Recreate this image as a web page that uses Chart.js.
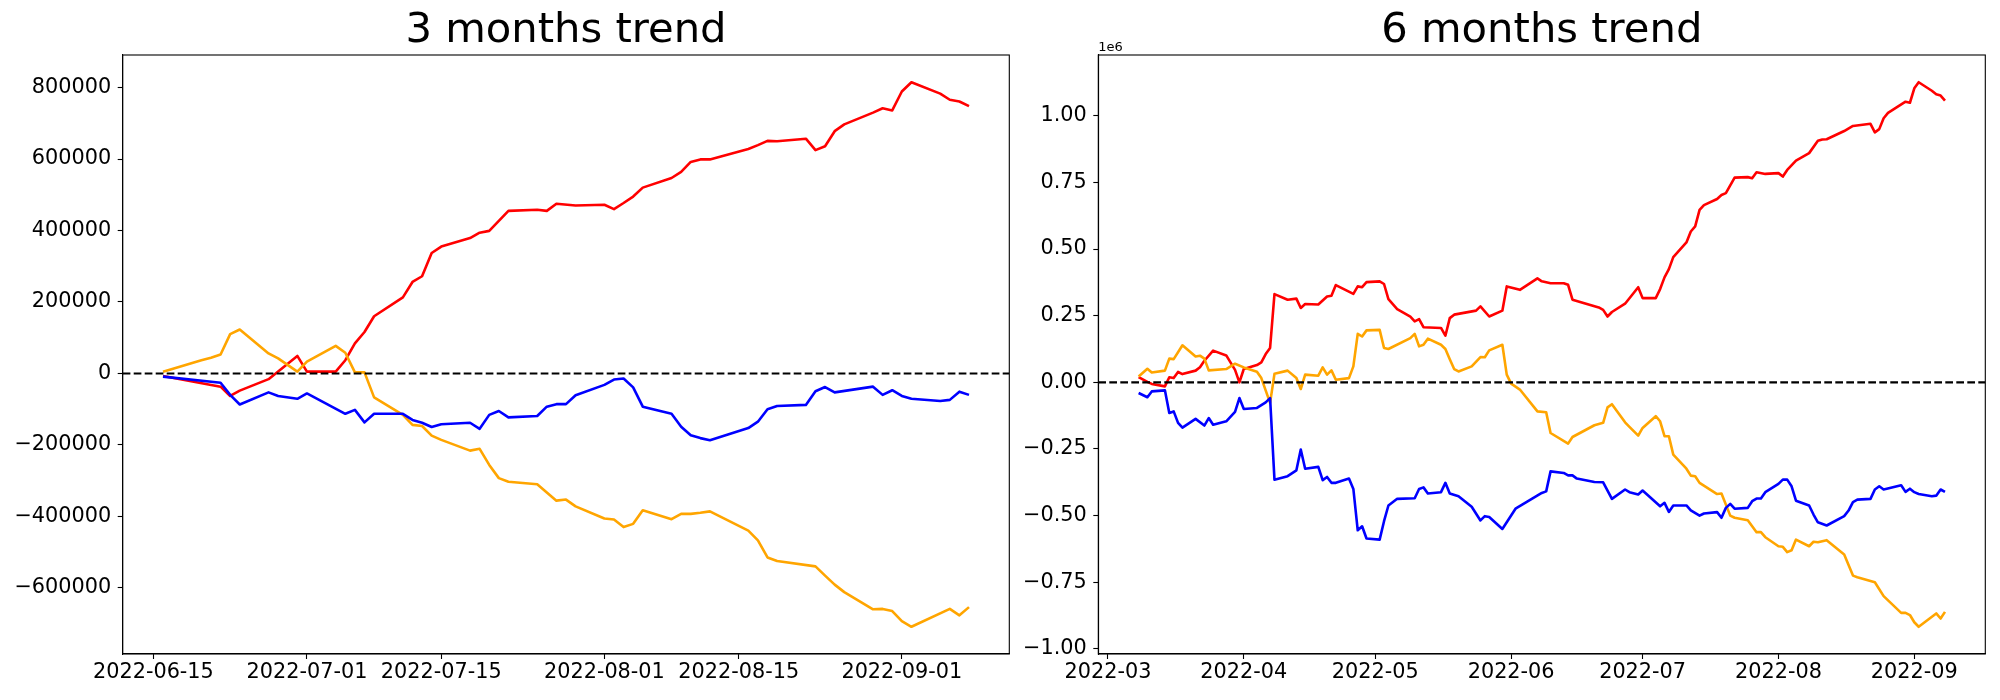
<!DOCTYPE html>
<html>
<head>
<meta charset="utf-8">
<script src="https://cdn.jsdelivr.net/npm/chart.js@4.4.0/dist/chart.umd.min.js"></script>
<style>
  html, body { margin: 0; padding: 0; background: #fff; }
  body { width: 2000px; height: 700px; position: relative; overflow: hidden; }
  .panel { position: absolute; top: 0; height: 700px; }
  #leftPanel { left: 0; width: 1015px; }
  #rightPanel { left: 1015px; width: 985px; }
</style>
</head>
<body>
<div class="panel" id="leftPanel"><canvas id="chart3m" width="1015" height="700"></canvas></div>
<div class="panel" id="rightPanel"><canvas id="chart6m" width="985" height="700"></canvas></div>
<script>
// ---- 3 months trend ----
const red3Dates = ["2022-06-16", "2022-06-22", "2022-06-23", "2022-06-24", "2022-06-27", "2022-06-30",
  "2022-07-01", "2022-07-04", "2022-07-05", "2022-07-06", "2022-07-07", "2022-07-08",
  "2022-07-11", "2022-07-12", "2022-07-13", "2022-07-14", "2022-07-15",
  "2022-07-18", "2022-07-19", "2022-07-20", "2022-07-22",
  "2022-07-25", "2022-07-26", "2022-07-27", "2022-07-29",
  "2022-08-01", "2022-08-02", "2022-08-03", "2022-08-04", "2022-08-05",
  "2022-08-08", "2022-08-09", "2022-08-10", "2022-08-11", "2022-08-12",
  "2022-08-16", "2022-08-17", "2022-08-18", "2022-08-19",
  "2022-08-22", "2022-08-23", "2022-08-24", "2022-08-25", "2022-08-26",
  "2022-08-29", "2022-08-30", "2022-08-31", "2022-09-01", "2022-09-02",
  "2022-09-05", "2022-09-06", "2022-09-07", "2022-09-08"];
const red3Values = [-7000, -37000, -63000, -48000, -16000, 49000,
  5000, 5000, 37000, 84000, 116000, 160000,
  213000, 256000, 272000, 337000, 355000,
  379000, 394000, 399000, 455000,
  458000, 455000, 475000, 470000,
  472000, 460000, 477000, 495000, 520000,
  547000, 564000, 592000, 599000, 599000,
  628000, 639000, 651000, 650000,
  657000, 625000, 636000, 678000, 697000,
  730000, 742000, 736000, 789000, 815000,
  783000, 766000, 761000, 748000];

const orange3Dates = ["2022-06-16", "2022-06-20", "2022-06-21", "2022-06-22", "2022-06-23", "2022-06-24",
  "2022-06-27", "2022-06-28", "2022-06-30", "2022-07-01",
  "2022-07-04", "2022-07-05", "2022-07-06", "2022-07-07", "2022-07-08",
  "2022-07-11", "2022-07-12", "2022-07-13", "2022-07-14", "2022-07-15",
  "2022-07-18", "2022-07-19", "2022-07-20", "2022-07-21", "2022-07-22",
  "2022-07-25", "2022-07-26", "2022-07-27", "2022-07-28", "2022-07-29",
  "2022-08-01", "2022-08-02", "2022-08-03", "2022-08-04", "2022-08-05",
  "2022-08-08", "2022-08-09", "2022-08-10", "2022-08-11", "2022-08-12",
  "2022-08-16", "2022-08-17", "2022-08-18", "2022-08-19",
  "2022-08-23", "2022-08-24", "2022-08-25", "2022-08-26",
  "2022-08-29", "2022-08-30", "2022-08-31", "2022-09-01", "2022-09-02",
  "2022-09-06", "2022-09-07", "2022-09-08"];
const orange3Values = [5000, 37000, 44000, 53000, 110000, 123000,
  56000, 42000, 5000, 33000,
  77000, 58000, 3000, 3000, -67000,
  -116000, -144000, -147000, -174000, -186000,
  -216000, -211000, -256000, -293000, -303000,
  -310000, -333000, -356000, -353000, -372000,
  -406000, -409000, -430000, -421000, -383000,
  -408000, -393000, -393000, -390000, -386000,
  -440000, -467000, -515000, -525000,
  -540000, -566000, -591000, -612000,
  -660000, -659000, -665000, -693000, -709000,
  -659000, -677000, -654000];

const blue3Dates = ["2022-06-16", "2022-06-22", "2022-06-23", "2022-06-24", "2022-06-27", "2022-06-28", "2022-06-30",
  "2022-07-01", "2022-07-05", "2022-07-06", "2022-07-07", "2022-07-08",
  "2022-07-11", "2022-07-12", "2022-07-13", "2022-07-14", "2022-07-15",
  "2022-07-18", "2022-07-19", "2022-07-20", "2022-07-21", "2022-07-22",
  "2022-07-25", "2022-07-26", "2022-07-27", "2022-07-28", "2022-07-29",
  "2022-08-01", "2022-08-02", "2022-08-03", "2022-08-04", "2022-08-05",
  "2022-08-08", "2022-08-09", "2022-08-10", "2022-08-11", "2022-08-12",
  "2022-08-16", "2022-08-17", "2022-08-18", "2022-08-19",
  "2022-08-22", "2022-08-23", "2022-08-24", "2022-08-25",
  "2022-08-29", "2022-08-30", "2022-08-31", "2022-09-01", "2022-09-02",
  "2022-09-05", "2022-09-06", "2022-09-07", "2022-09-08"];
const blue3Values = [-9000, -26000, -60000, -87000, -53000, -63000, -71000,
  -56000, -113000, -102000, -137000, -113000,
  -113000, -130000, -138000, -150000, -142000,
  -138000, -155000, -116000, -105000, -123000,
  -119000, -93000, -86000, -86000, -61000,
  -32000, -17000, -14000, -39000, -93000,
  -113000, -149000, -173000, -181000, -187000,
  -153000, -135000, -100000, -91000,
  -88000, -50000, -38000, -53000,
  -37000, -60000, -47000, -63000, -71000,
  -77000, -74000, -51000, -60000];

const xTicks3 = ["2022-06-15", "2022-07-01", "2022-07-15", "2022-08-01", "2022-08-15", "2022-09-01"];
const yTicks3 = [-600000, -400000, -200000, 0, 200000, 400000, 600000, 800000];

// ---- 6 months trend ----
const red6Dates = ["2022-03-08", "2022-03-10", "2022-03-11", "2022-03-14", "2022-03-15", "2022-03-16", "2022-03-17", "2022-03-18",
  "2022-03-21", "2022-03-22", "2022-03-23", "2022-03-25", "2022-03-28", "2022-03-30", "2022-03-31",
  "2022-04-01", "2022-04-04", "2022-04-05", "2022-04-06", "2022-04-07", "2022-04-08", "2022-04-11", "2022-04-13",
  "2022-04-14", "2022-04-15", "2022-04-18", "2022-04-20", "2022-04-21", "2022-04-22", "2022-04-26", "2022-04-27",
  "2022-04-28", "2022-04-29",
  "2022-05-02", "2022-05-03", "2022-05-04", "2022-05-06", "2022-05-09", "2022-05-10", "2022-05-11", "2022-05-12",
  "2022-05-16", "2022-05-17", "2022-05-18", "2022-05-19", "2022-05-24", "2022-05-25", "2022-05-27", "2022-05-30",
  "2022-05-31",
  "2022-06-03", "2022-06-07", "2022-06-08", "2022-06-10", "2022-06-13", "2022-06-14", "2022-06-15", "2022-06-21",
  "2022-06-22", "2022-06-23", "2022-06-24", "2022-06-27", "2022-06-30",
  "2022-07-01", "2022-07-04", "2022-07-05", "2022-07-06", "2022-07-07", "2022-07-08", "2022-07-11", "2022-07-12",
  "2022-07-13", "2022-07-14", "2022-07-15", "2022-07-18", "2022-07-19", "2022-07-20", "2022-07-22", "2022-07-25",
  "2022-07-26", "2022-07-27", "2022-07-29",
  "2022-08-01", "2022-08-02", "2022-08-03", "2022-08-05", "2022-08-08", "2022-08-10", "2022-08-11", "2022-08-12",
  "2022-08-16", "2022-08-18", "2022-08-22", "2022-08-23", "2022-08-24", "2022-08-25", "2022-08-26", "2022-08-30",
  "2022-08-31",
  "2022-09-01", "2022-09-02", "2022-09-05", "2022-09-06", "2022-09-07", "2022-09-08"];
const red6Values = [20000, 2000, -6000, -15000, 19000, 16000, 39000, 31000,
  44000, 57000, 81000, 119000, 101000, 47000, 0,
  50000, 65000, 75000, 106000, 129000, 331000, 310000, 314000,
  279000, 294000, 292000, 322000, 325000, 365000, 332000, 360000,
  357000, 376000,
  379000, 369000, 312000, 275000, 247000, 229000, 237000, 207000,
  204000, 175000, 241000, 254000, 269000, 285000, 247000, 269000,
  360000,
  347000, 390000, 379000, 372000, 372000, 366000, 310000, 281000,
  272000, 247000, 264000, 295000, 357000,
  316000, 316000, 350000, 394000, 425000, 470000, 525000, 566000,
  585000, 647000, 665000, 688000, 703000, 710000, 768000, 770000,
  766000, 788000, 782000,
  785000, 772000, 797000, 832000, 860000, 906000, 911000, 912000,
  943000, 962000, 970000, 938000, 950000, 991000, 1011000, 1053000,
  1049000,
  1103000, 1126000, 1094000, 1081000, 1076000, 1057000];

const orange6Dates = ["2022-03-08", "2022-03-10", "2022-03-11", "2022-03-14", "2022-03-15", "2022-03-16", "2022-03-18",
  "2022-03-21", "2022-03-22", "2022-03-23", "2022-03-24", "2022-03-28", "2022-03-30",
  "2022-04-01", "2022-04-04", "2022-04-05", "2022-04-07", "2022-04-08", "2022-04-11", "2022-04-13", "2022-04-14",
  "2022-04-15", "2022-04-18", "2022-04-19", "2022-04-20", "2022-04-21", "2022-04-22", "2022-04-25", "2022-04-26",
  "2022-04-27", "2022-04-28", "2022-04-29",
  "2022-05-02", "2022-05-03", "2022-05-04", "2022-05-09", "2022-05-10", "2022-05-11", "2022-05-12", "2022-05-13",
  "2022-05-16", "2022-05-17", "2022-05-18", "2022-05-19", "2022-05-20", "2022-05-23", "2022-05-25", "2022-05-26",
  "2022-05-27", "2022-05-30", "2022-05-31",
  "2022-06-01", "2022-06-03", "2022-06-07", "2022-06-09", "2022-06-10", "2022-06-14", "2022-06-15", "2022-06-20",
  "2022-06-22", "2022-06-23", "2022-06-24", "2022-06-27", "2022-06-28", "2022-06-30",
  "2022-07-01", "2022-07-04", "2022-07-05", "2022-07-06", "2022-07-07", "2022-07-08", "2022-07-11", "2022-07-12",
  "2022-07-13", "2022-07-14", "2022-07-18", "2022-07-19", "2022-07-21", "2022-07-22", "2022-07-25", "2022-07-27",
  "2022-07-28", "2022-07-29",
  "2022-08-01", "2022-08-02", "2022-08-03", "2022-08-04", "2022-08-05", "2022-08-08", "2022-08-09", "2022-08-10",
  "2022-08-12", "2022-08-16", "2022-08-18", "2022-08-19", "2022-08-23", "2022-08-25", "2022-08-29", "2022-08-30",
  "2022-08-31",
  "2022-09-01", "2022-09-02", "2022-09-06", "2022-09-07", "2022-09-08"];
const orange6Values = [22000, 51000, 37000, 44000, 89000, 87000, 139000,
  97000, 100000, 89000, 45000, 50000, 70000,
  56000, 40000, 16000, -77000, 32000, 44000, 16000, -25000,
  29000, 25000, 56000, 29000, 45000, 10000, 16000, 60000,
  182000, 172000, 195000,
  197000, 129000, 125000, 166000, 182000, 135000, 141000, 164000,
  141000, 125000, 87000, 50000, 41000, 60000, 95000, 94000,
  120000, 141000, 29000,
  -5000, -27000, -109000, -112000, -190000, -230000, -205000, -161000,
  -152000, -94000, -82000, -150000, -167000, -200000,
  -171000, -127000, -146000, -202000, -202000, -271000, -324000, -350000,
  -352000, -377000, -419000, -417000, -500000, -508000, -517000, -562000,
  -562000, -581000,
  -615000, -617000, -637000, -630000, -590000, -615000, -598000, -600000,
  -592000, -646000, -725000, -731000, -750000, -802000, -865000, -865000,
  -873000,
  -900000, -917000, -867000, -886000, -861000];

const blue6Dates = ["2022-03-08", "2022-03-10", "2022-03-11", "2022-03-14", "2022-03-15", "2022-03-16", "2022-03-17", "2022-03-18",
  "2022-03-21", "2022-03-23", "2022-03-24", "2022-03-25", "2022-03-28", "2022-03-30", "2022-03-31",
  "2022-04-01", "2022-04-04", "2022-04-06", "2022-04-07", "2022-04-08", "2022-04-11", "2022-04-13", "2022-04-14",
  "2022-04-15", "2022-04-18", "2022-04-19", "2022-04-20", "2022-04-21", "2022-04-22", "2022-04-25", "2022-04-26",
  "2022-04-27", "2022-04-28", "2022-04-29",
  "2022-05-02", "2022-05-03", "2022-05-04", "2022-05-06", "2022-05-10", "2022-05-11", "2022-05-12", "2022-05-13",
  "2022-05-16", "2022-05-17", "2022-05-18", "2022-05-20", "2022-05-23", "2022-05-25", "2022-05-26", "2022-05-27",
  "2022-05-30",
  "2022-06-02", "2022-06-08", "2022-06-09", "2022-06-10", "2022-06-13", "2022-06-14", "2022-06-15", "2022-06-16",
  "2022-06-20", "2022-06-22", "2022-06-24", "2022-06-27", "2022-06-28", "2022-06-30",
  "2022-07-01", "2022-07-05", "2022-07-06", "2022-07-07", "2022-07-08", "2022-07-11", "2022-07-12", "2022-07-14",
  "2022-07-15", "2022-07-18", "2022-07-19", "2022-07-20", "2022-07-21", "2022-07-22", "2022-07-25", "2022-07-26",
  "2022-07-27", "2022-07-28", "2022-07-29",
  "2022-08-01", "2022-08-02", "2022-08-03", "2022-08-04", "2022-08-05", "2022-08-08", "2022-08-09", "2022-08-10",
  "2022-08-12", "2022-08-16", "2022-08-17", "2022-08-18", "2022-08-19", "2022-08-22", "2022-08-23", "2022-08-24",
  "2022-08-25", "2022-08-29", "2022-08-30", "2022-08-31",
  "2022-09-01", "2022-09-02", "2022-09-05", "2022-09-06", "2022-09-07", "2022-09-08"];
const blue6Values = [-40000, -56000, -34000, -30000, -115000, -109000, -152000, -170000,
  -137000, -162000, -134000, -159000, -146000, -111000, -59000,
  -100000, -96000, -75000, -59000, -365000, -352000, -330000, -252000,
  -324000, -317000, -367000, -355000, -377000, -377000, -361000, -400000,
  -555000, -540000, -586000,
  -590000, -521000, -462000, -437000, -435000, -400000, -394000, -417000,
  -412000, -377000, -417000, -427000, -467000, -518000, -502000, -505000,
  -550000,
  -474000, -415000, -409000, -334000, -340000, -349000, -349000, -361000,
  -374000, -375000, -437000, -402000, -412000, -421000,
  -406000, -465000, -452000, -486000, -462000, -462000, -480000, -500000,
  -492000, -487000, -508000, -471000, -456000, -474000, -471000, -446000,
  -436000, -436000, -412000,
  -381000, -365000, -365000, -390000, -444000, -462000, -496000, -525000,
  -537000, -502000, -481000, -449000, -440000, -437000, -402000, -390000,
  -402000, -386000, -411000, -399000,
  -412000, -419000, -427000, -425000, -402000, -411000];

const xTicks6 = ["2022-03", "2022-04", "2022-05", "2022-06", "2022-07", "2022-08", "2022-09"];
const yTicks6 = [-1000000, -750000, -500000, -250000, 0, 250000, 500000, 750000, 1000000];

const FONT = "'DejaVu Sans', sans-serif";
Chart.defaults.font.family = FONT;
Chart.defaults.color = "#000";

// day number from "YYYY-MM-DD" or "YYYY-MM"
function toDay(str) {
  const p = str.split("-").map(Number);
  return Date.UTC(p[0], p[1] - 1, p[2] || 1) / 86400000;
}

function points(dates, values) {
  return dates.map((d, i) => ({ x: toDay(d), y: values[i] }));
}

// matplotlib style 5% margins
function padRange(lo, hi) {
  const m = (hi - lo) * 0.05;
  return [lo - m, hi + m];
}

function minusSign(s) {
  return s.replace("-", "\u2212");
}

// box around the axes, like matplotlib spines
const framePlugin = {
  id: "frame",
  afterDraw(chart) {
    const a = chart.chartArea;
    const ctx = chart.ctx;
    ctx.save();
    ctx.strokeStyle = "#000";
    ctx.lineWidth = 1.1;
    ctx.strokeRect(a.left, a.top, a.right - a.left, a.bottom - a.top);
    ctx.restore();
  },
};

// "1e6" offset text over the y axis
const offsetTextPlugin = {
  id: "offsetText",
  afterDraw(chart, args, opts) {
    if (!opts.text) return;
    const a = chart.chartArea;
    const ctx = chart.ctx;
    ctx.save();
    ctx.fillStyle = "#000";
    ctx.font = "13px " + FONT;
    ctx.textAlign = "left";
    ctx.textBaseline = "alphabetic";
    ctx.fillText(opts.text, a.left, a.top - 4.3);
    ctx.restore();
  },
};

function makeChart(canvasId, opts) {
  const allX = [];
  const allY = [];
  opts.series.forEach((s) => {
    s.dates.forEach((d) => allX.push(toDay(d)));
    s.values.forEach((v) => allY.push(v));
  });
  const [xMin, xMax] = padRange(Math.min(...allX), Math.max(...allX));
  const [yMin, yMax] = padRange(Math.min(...allY), Math.max(...allY));

  const datasets = [
    {
      label: "zero",
      data: [{ x: xMin, y: 0 }, { x: xMax, y: 0 }],
      borderColor: "#000",
      borderWidth: 2.1,
      borderDash: [7.7, 3.3],
      pointRadius: 0,
    },
  ];
  opts.series
    .slice()
    .reverse()
    .forEach((s) => {
      datasets.push({
        label: s.name,
        data: points(s.dates, s.values),
        borderColor: s.color,
        borderWidth: 2.6,
        borderJoinStyle: "round",
        pointRadius: 0,
        tension: 0,
        fill: false,
      });
    });

  const tickFont = { family: FONT, size: 20.8 };

  return new Chart(document.getElementById(canvasId), {
    type: "line",
    data: { datasets: datasets },
    options: {
      responsive: false,
      animation: false,
      events: [],
      layout: { padding: { top: 0, right: opts.padRight, bottom: 0, left: 0 } },
      plugins: {
        legend: { display: false },
        tooltip: { enabled: false },
        title: {
          display: true,
          text: opts.title,
          fullSize: false,
          color: "#000",
          font: { family: FONT, size: 41.7, weight: "normal", lineHeight: 1.0 },
          padding: { top: 10.4, bottom: 2.9 },
        },
        offsetText: { text: opts.offsetText || "" },
      },
      scales: {
        x: {
          type: "linear",
          min: xMin,
          max: xMax,
          afterBuildTicks: (scale) => {
            scale.ticks = opts.xTicks.map((t) => ({ value: toDay(t) }));
          },
          afterFit: (scale) => {
            scale.height = 46;
          },
          ticks: {
            autoSkip: false,
            maxRotation: 0,
            minRotation: 0,
            padding: 1,
            color: "#000",
            font: tickFont,
            callback: (value, index) => opts.xTicks[index],
          },
          grid: { drawOnChartArea: false, drawTicks: true, tickLength: 5, tickColor: "#000", tickWidth: 1.1 },
          border: { display: true, color: "#000", width: 1.1 },
        },
        y: {
          type: "linear",
          min: yMin,
          max: yMax,
          afterBuildTicks: (scale) => {
            scale.ticks = opts.yTicks.map((v) => ({ value: v }));
          },
          afterFit: (scale) => {
            scale.width = opts.axisWidth;
          },
          ticks: {
            padding: 6.5,
            color: "#000",
            font: tickFont,
            callback: (value) => minusSign(opts.yFormat(value)),
          },
          grid: { drawOnChartArea: false, drawTicks: true, tickLength: 5, tickColor: "#000", tickWidth: 1.1 },
          border: { display: true, color: "#000", width: 1.1 },
        },
      },
    },
    plugins: [framePlugin, offsetTextPlugin],
  });
}

document.addEventListener("DOMContentLoaded", function () {
  makeChart("chart3m", {
    title: "3 months trend",
    series: [
      { name: "red", dates: red3Dates, values: red3Values, color: "#ff0000" },
      { name: "orange", dates: orange3Dates, values: orange3Values, color: "#ffa500" },
      { name: "blue", dates: blue3Dates, values: blue3Values, color: "#0000ff" },
    ],
    xTicks: xTicks3,
    yTicks: yTicks3,
    yFormat: (v) => String(v),
    axisWidth: 122.7,
    padRight: 5.7,
  });

  makeChart("chart6m", {
    title: "6 months trend",
    series: [
      { name: "red", dates: red6Dates, values: red6Values, color: "#ff0000" },
      { name: "orange", dates: orange6Dates, values: orange6Values, color: "#ffa500" },
      { name: "blue", dates: blue6Dates, values: blue6Values, color: "#0000ff" },
    ],
    xTicks: xTicks6,
    yTicks: yTicks6,
    yFormat: (v) => (v / 1e6).toFixed(2),
    axisWidth: 83.3,
    padRight: 14.7,
    offsetText: "1e6",
  });
});
</script>
</body>
</html>
